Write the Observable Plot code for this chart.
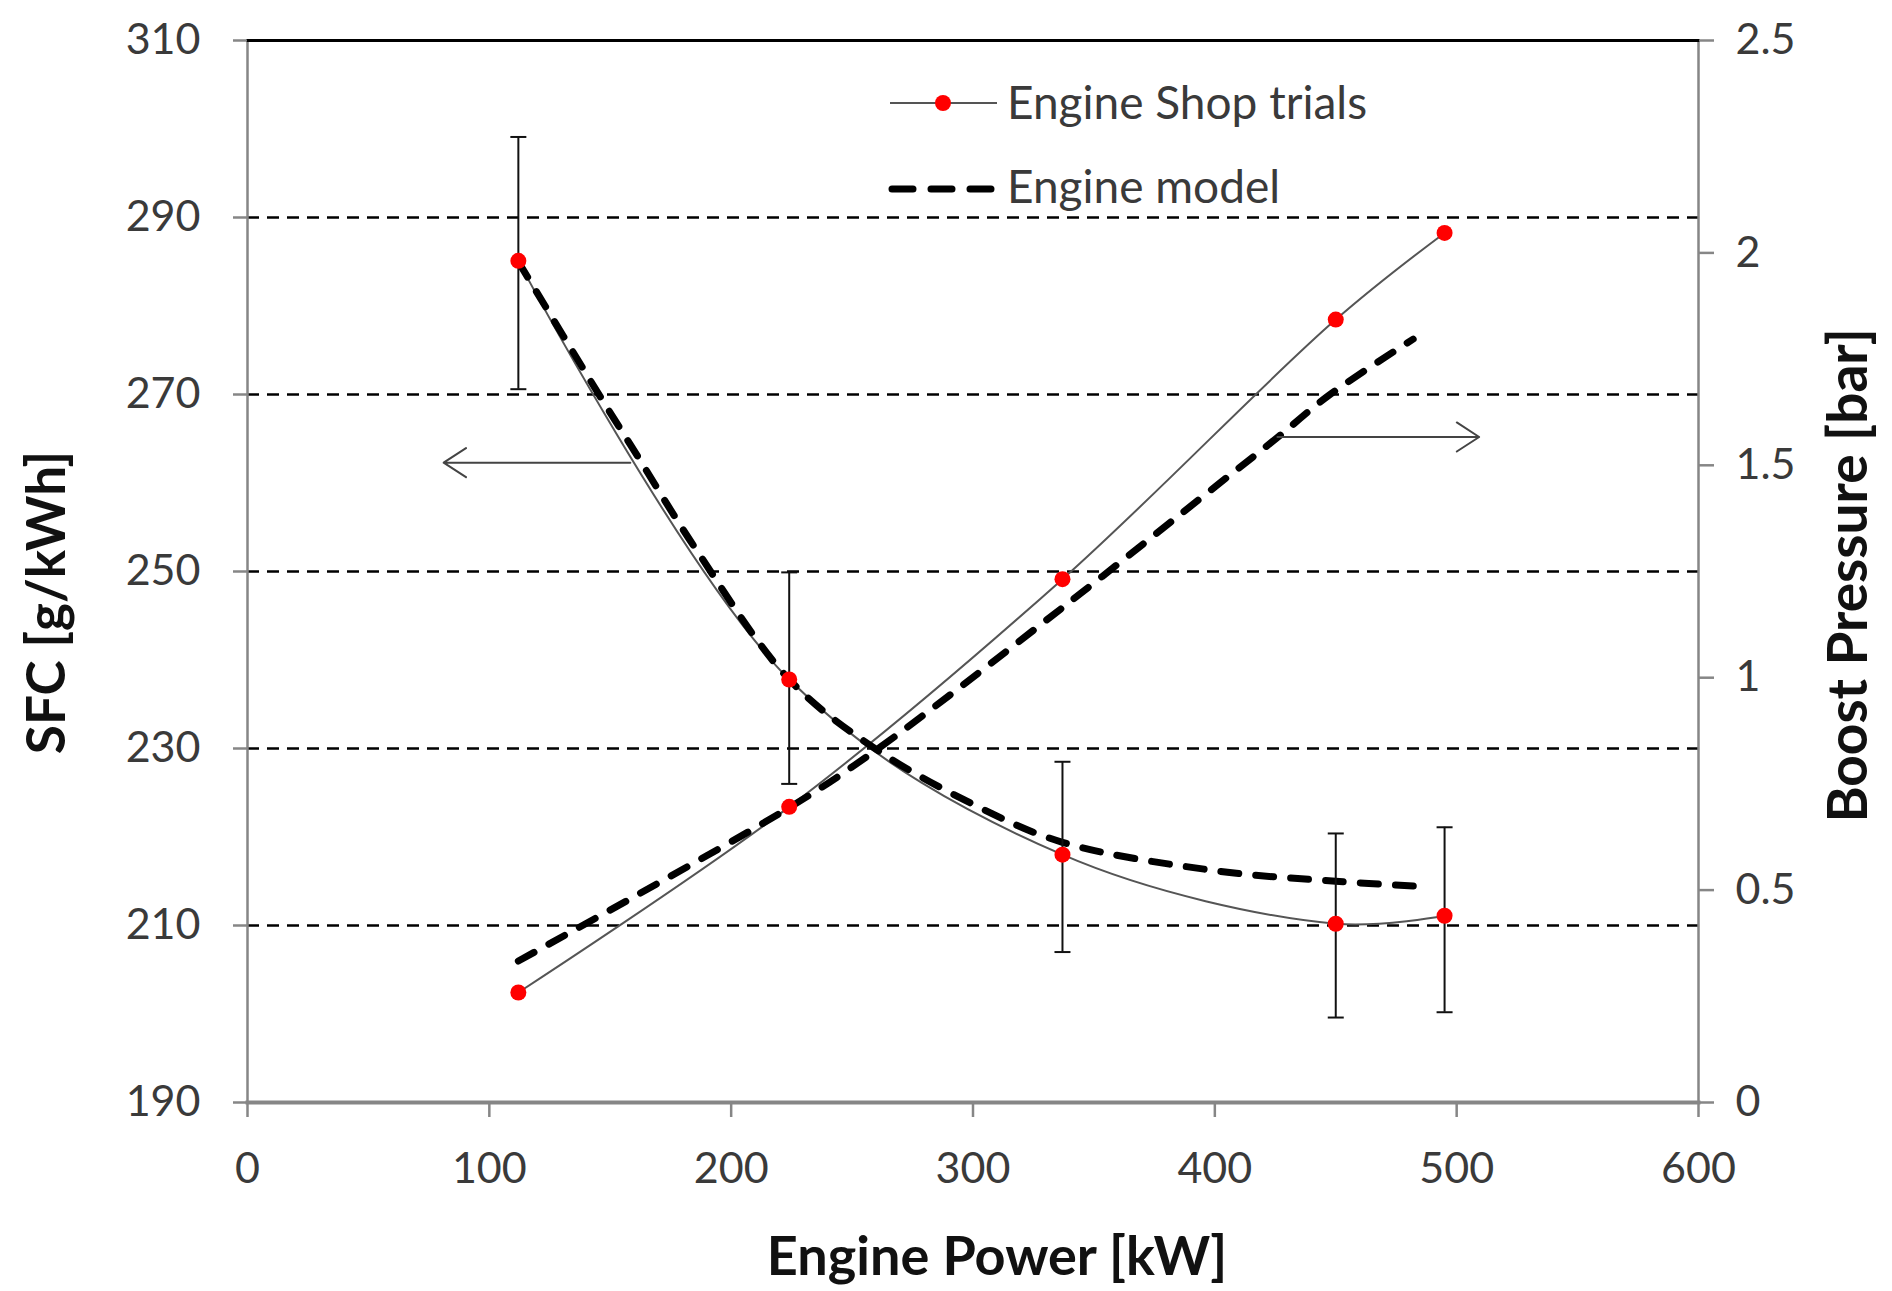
<!DOCTYPE html>
<html><head><meta charset="utf-8">
<script src="https://cdn.jsdelivr.net/npm/d3@7"></script>
<script src="https://cdn.jsdelivr.net/npm/@observablehq/plot@0.6"></script>
<style>
html,body{margin:0;padding:0;background:#fff;}
#wrap{position:relative;width:1892px;height:1291px;}
#legend{position:absolute;left:0;top:0;pointer-events:none;}
</style></head><body><div id="wrap"></div>
<script>
// ---- data ----
const power = [112, 224, 337, 450, 495];                 // kW
const sfcTrial = [285.1, 237.8, 218.0, 210.2, 211.1];     // g/kWh
const sfcErrHigh = [299.1, 249.9, 228.5, 220.4, 221.1];
const sfcErrLow = [270.6, 226.0, 207.0, 199.6, 200.2];
const boostTrial = [0.259, 0.696, 1.232, 1.843, 2.047];   // bar

const modelSfcPower = [112, 146, 160, 185, 224, 260, 300, 337, 400, 450, 486];
const modelSfc = [285.0, 269.7, 263.6, 252.7, 237.8, 229.9, 223.7, 219.4, 216.2, 215.0, 214.4];
const modelBoostPower = [112, 224, 260, 337, 400, 426, 447, 482];
const modelBoost = [0.333, 0.694, 0.830, 1.165, 1.449, 1.566, 1.664, 1.797];

const powerTicks = [0, 100, 200, 300, 400, 500, 600];
const sfcTicks = [190, 210, 230, 250, 270, 290, 310];
const gridTicks = [210, 230, 250, 270, 290];
const boostTicks = [0, 0.5, 1, 1.5, 2, 2.5];

// annotation arrows (data space: power, SFC)
const arrowStart = [158.3, 425.9];
const arrowEnd = [81.1, 509.3];
const arrowSfc = [262.3, 265.2];

// ---- mapping of boost axis onto SFC axis ----
const sfcMin = 190, sfcMax = 310, boostMax = 2.5;
const toSfc = b => sfcMin + b * (sfcMax - sfcMin) / boostMax;
const fromSfc = s => (s - sfcMin) * boostMax / (sfcMax - sfcMin);

const trials = power.map((p, i) => ({power: p, sfc: sfcTrial[i], hi: sfcErrHigh[i], lo: sfcErrLow[i], boost: boostTrial[i]}));
const modelSfcT = modelSfcPower.map((p, i) => ({power: p, sfc: modelSfc[i]}));
const modelBoostT = modelBoostPower.map((p, i) => ({power: p, boost: modelBoost[i]}));
const arrows = arrowStart.map((s, i) => ({x1: s, x2: arrowEnd[i], y: arrowSfc[i]}));

const capSymbol = {draw(ctx, size) { const r = Math.sqrt(size / Math.PI); ctx.moveTo(-r, 0); ctx.lineTo(r, 0); }};

const axisGray = "#868686";
const labelColor = "#3a3a3a";

const plot = Plot.plot({
  width: 1892, height: 1291,
  marginLeft: 247, marginRight: 194, marginTop: 40, marginBottom: 189,
  style: {fontFamily: "Lato, 'Open Sans', sans-serif", background: "white", color: labelColor},
  x: {domain: [powerTicks[0], powerTicks[powerTicks.length - 1]]},
  y: {domain: [sfcMin, sfcMax]},
  marks: [
    Plot.ruleY(gridTicks, {stroke: "#000", strokeWidth: 2.5, strokeDasharray: "12,8"}),
    Plot.frame({anchor: "left", stroke: axisGray, strokeWidth: 2.5}),
    Plot.frame({anchor: "right", stroke: axisGray, strokeWidth: 2.5}),
    Plot.frame({anchor: "bottom", stroke: axisGray, strokeWidth: 4}),
    Plot.frame({anchor: "top", stroke: "#000", strokeWidth: 3}),
    Plot.axisY(sfcTicks, {anchor: "left", tickSize: 14, tickPadding: 33, fontSize: 43, stroke: axisGray, fill: labelColor, strokeWidth: 2.5, label: null}),
    Plot.axisY(boostTicks.map(toSfc), {anchor: "right", tickSize: 15, tickPadding: 22, fontSize: 43, stroke: axisGray, fill: labelColor, strokeWidth: 2.5, label: null, tickFormat: d => String(+fromSfc(d).toFixed(2))}),
    Plot.axisX(powerTicks, {anchor: "bottom", tickSize: 15, tickPadding: 35, fontSize: 43, stroke: axisGray, fill: labelColor, strokeWidth: 2.5, label: null}),
    // trial lines
    Plot.line(trials, {x: "power", y: "sfc", curve: "catmull-rom", stroke: "#555", strokeWidth: 2}),
    Plot.line(trials, {x: "power", y: d => toSfc(d.boost), curve: "catmull-rom", stroke: "#555", strokeWidth: 2}),
    // model lines
    Plot.line(modelSfcT, {x: "power", y: "sfc", curve: "catmull-rom", stroke: "#000", strokeWidth: 7, strokeDasharray: "18,17", strokeLinecap: "round"}),
    Plot.line(modelBoostT, {x: "power", y: d => toSfc(d.boost), curve: "catmull-rom", stroke: "#000", strokeWidth: 7, strokeDasharray: "18,17", strokeLinecap: "round"}),
    // error bars
    Plot.ruleX(trials, {x: "power", y1: "lo", y2: "hi", stroke: "#111", strokeWidth: 2}),
    Plot.dot(trials, {x: "power", y: "hi", symbol: capSymbol, r: 8, stroke: "#111", strokeWidth: 2, fill: "none"}),
    Plot.dot(trials, {x: "power", y: "lo", symbol: capSymbol, r: 8, stroke: "#111", strokeWidth: 2, fill: "none"}),
    // red markers
    Plot.dot(trials, {x: "power", y: "sfc", r: 8, fill: "#ff0000", stroke: "none"}),
    Plot.dot(trials, {x: "power", y: d => toSfc(d.boost), r: 8, fill: "#ff0000", stroke: "none"}),
    // annotation arrows
    Plot.arrow(arrows, {x1: "x1", x2: "x2", y1: "y", y2: "y", stroke: "#444", strokeWidth: 2, headLength: 20, headAngle: 66}),
    // axis titles
    Plot.text(["Engine Power [kW]"], {text: d => d, frameAnchor: "bottom", textAnchor: "middle", lineAnchor: "middle", dx: 24, dy: 155, fontSize: 54, fontWeight: "bold", fill: "#111"}),
    Plot.text(["SFC [g/kWh]"], {text: d => d, frameAnchor: "left", textAnchor: "middle", lineAnchor: "middle", rotate: -90, dx: -199, dy: 31, fontSize: 53, fontWeight: "bold", fill: "#111"}),
    Plot.text(["Boost Pressure [bar]"], {text: d => d, frameAnchor: "right", textAnchor: "middle", lineAnchor: "middle", rotate: -90, dx: 151, dy: 4, fontSize: 55, fontWeight: "bold", fill: "#111"})
  ]
});
const wrap = document.getElementById("wrap");
wrap.appendChild(plot);

// legend overlay
const legendItems = ["Engine Shop trials", "Engine model"];
const ns = "http://www.w3.org/2000/svg";
const lg = document.createElementNS(ns, "svg");
lg.setAttribute("id", "legend");
lg.setAttribute("width", 1892); lg.setAttribute("height", 260);
lg.innerHTML = `
  <line x1="890" y1="103" x2="997" y2="103" stroke="#555" stroke-width="2"/>
  <circle cx="943" cy="103" r="8" fill="#ff0000"/>
  <text x="1007" y="103" dy="0.35em" font-family="Lato" font-size="46" fill="${labelColor}">${legendItems[0]}</text>
  <line x1="892" y1="189" x2="992" y2="189" stroke="#000" stroke-width="7" stroke-dasharray="21,18" stroke-linecap="round"/>
  <text x="1007" y="187" dy="0.35em" font-family="Lato" font-size="46" fill="${labelColor}">${legendItems[1]}</text>`;
wrap.appendChild(lg);
</script></body></html>
